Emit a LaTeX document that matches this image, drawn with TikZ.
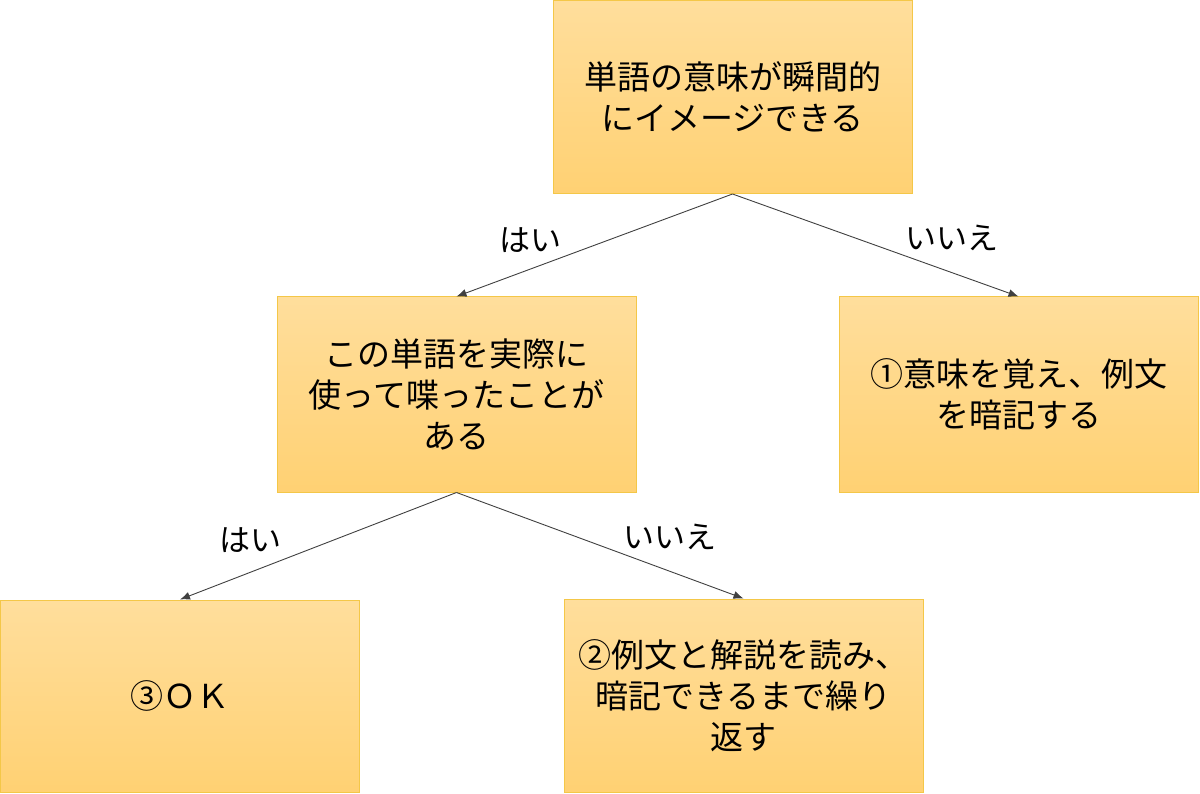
\documentclass[tikz,border=0pt]{standalone}
\usepackage{fontspec}
\setmainfont{Noto Sans CJK JP}
\usetikzlibrary{arrows.meta}
\definecolor{boxtop}{HTML}{FFDE9C}
\definecolor{boxbot}{HTML}{FFD173}
\definecolor{boxline}{HTML}{F4C748}
\definecolor{arrline}{HTML}{404040}
\tikzset{
  box/.style={rectangle, draw=boxline, line width=1pt, top color=boxtop, bottom color=boxbot,
    align=center, inner sep=0pt, font=\fontsize{33}{41}\selectfont},
  conn/.style={draw=arrline, line width=0.9pt, -{Latex[length=10pt,width=8pt]}},
  lbl/.style={font=\fontsize{31}{38}\selectfont, inner sep=0pt}
}
\begin{document}
\begin{tikzpicture}[x=1pt,y=-1pt]
\useasboundingbox (0,0) rectangle (1200,794);
\node[box, minimum width=359, minimum height=193] (top) at (732.5,97) {単語の意味が瞬間的\\にイメージできる};
\node[box, minimum width=359, minimum height=195] (mid) at (456.5,394.5) {この単語を実際に\\使って喋ったことが\\ある};
\node[box, minimum width=359, minimum height=195] (right) at (1018.5,394.5) {①意味を覚え、例文\\を暗記する};
\node[box, minimum width=359, minimum height=192] (bl) at (180,696) {③ＯＫ};
\node[box, minimum width=359, minimum height=193] (bm) at (743.5,695.5) {②例文と解説を読み、\\暗記できるまで繰り\\返す};
\draw[conn] (top.south) -- (mid.north);
\draw[conn] (top.south) -- (right.north);
\draw[conn] (mid.south) -- (bl.north);
\draw[conn] (mid.south) -- (bm.north);
\node[lbl] (l1) at (530,240) {はい};
\node[lbl] (l2) at (952,238) {いいえ};
\node[lbl] (l3) at (250,540) {はい};
\node[lbl] (l4) at (670,537) {いいえ};
\end{tikzpicture}
\end{document}
